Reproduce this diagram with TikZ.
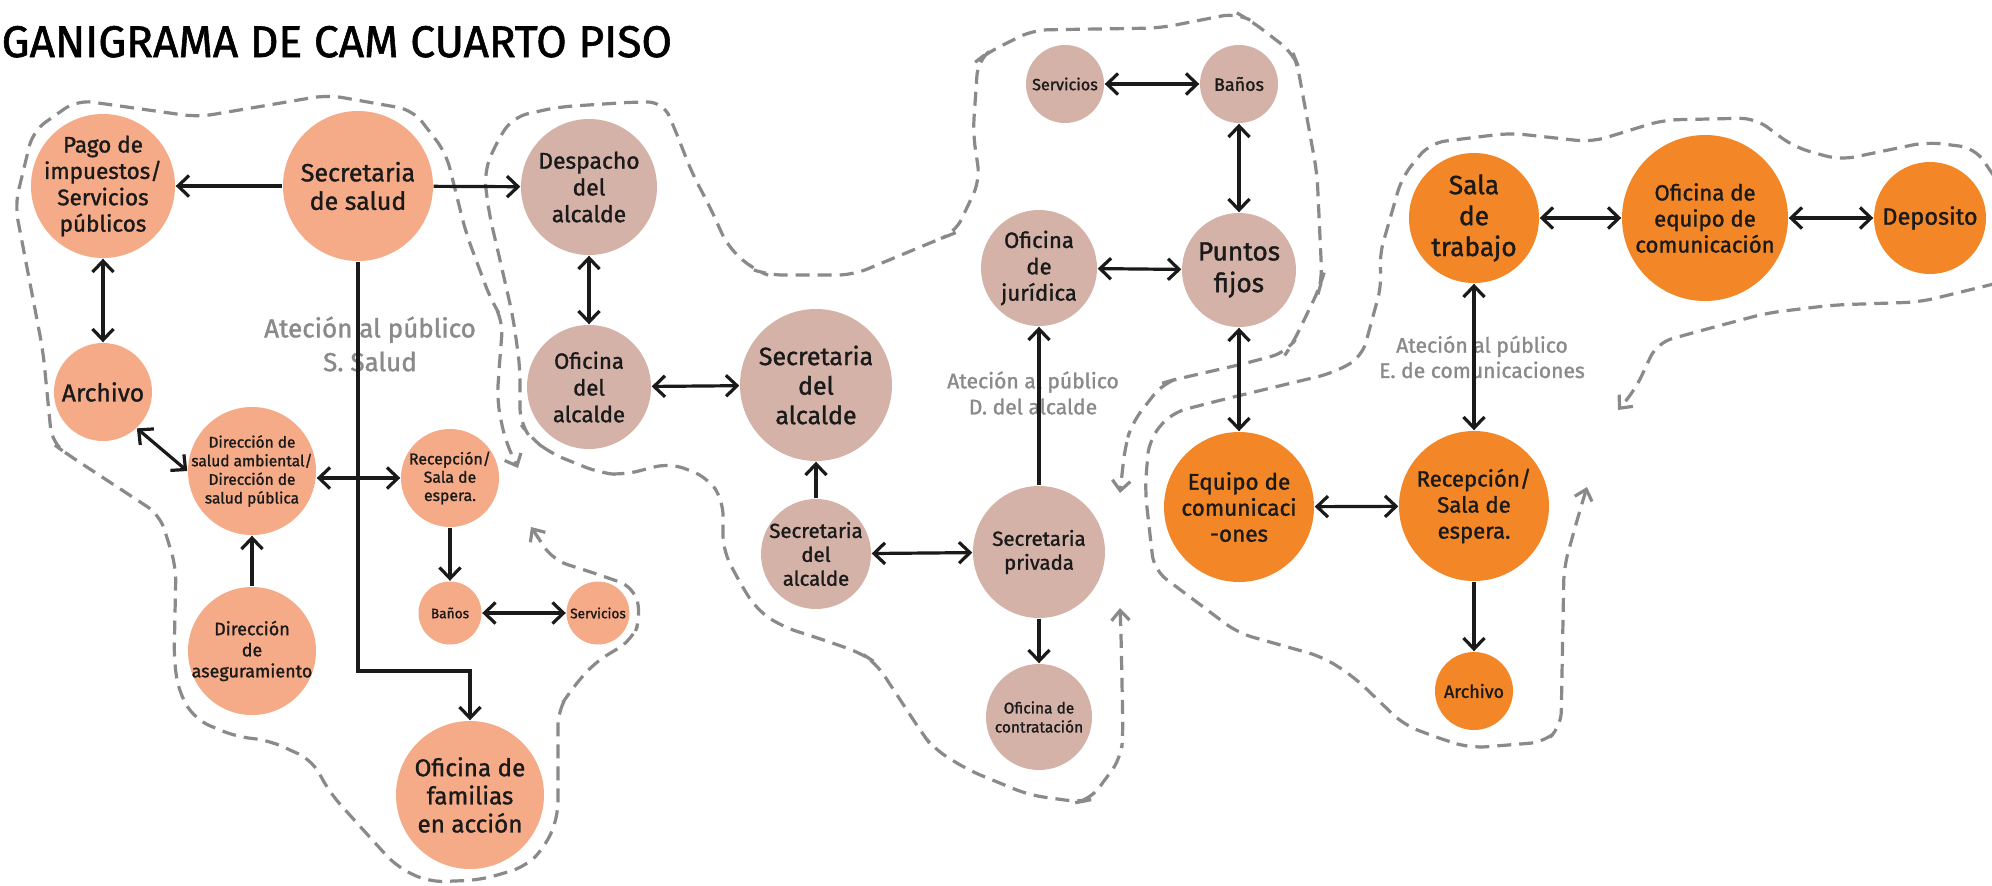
\documentclass[tikz,border=0pt]{standalone}
\usepackage{fontspec}
\setmainfont{Fira Sans}[FakeBold=1.3]
\usetikzlibrary{arrows.meta,calc,positioning}
\definecolor{colSalud}{HTML}{F5AA88}
\definecolor{colAlc}{HTML}{D4B2A8}
\definecolor{colCom}{HTML}{F38626}
\definecolor{ink}{HTML}{1A1A1A}
\definecolor{zona}{HTML}{8A8A8A}
\newcommand{\fsz}[2]{\fontsize{#1}{#2}\selectfont}

\begin{document}
\begin{tikzpicture}[x=0.1mm,y=-0.1mm,>={Straight Barb[length=1.1mm,width=2.1mm]},
  room/.style={circle,inner sep=0pt},
  salud/.style={room,fill=colSalud},
  alc/.style={room,fill=colAlc},
  com/.style={room,fill=colCom},
  every label/.style={align=center,text=ink,inner sep=0pt},
  link/.style={draw=ink,line width=0.32mm},
  zone/.style={draw=zona,line width=0.32mm,dash pattern=on 1.4mm off 0.8mm,rounded corners=1.5mm,
    >={Straight Barb[length=1mm,width=1.8mm]}},
  zonetext/.style={text=zona,align=center}]
  \path[use as bounding box,fill=white] (0,0) rectangle (1992,885);

  \node[anchor=base west,font=\fsz{12.6}{14},inner sep=0pt] (titulo) at (1,57) {GANIGRAMA DE CAM CUARTO PISO};

  % zonas de atencion
  \node[zonetext,font=\fsz{7.4}{9.6}] (zonaSalud) at (370,344) {Ateción al público\\S. Salud};
  \node[zonetext,font=\fsz{6}{7.4}] (zonaAlc) at (1033,393) {Ateción al público\\D. del alcalde};
  \node[zonetext,font=\fsz{6}{7.2}] (zonaCom) at (1482,357) {Ateción al público\\E. de comunicaciones};

  \draw[zone,<->] (531,527) -- (553,560) -- (594,573) -- (634,587) -- (641,617) -- (632,640)
    -- (594,663) -- (571,690) -- (558,710) -- (558,817) -- (545,847) -- (525,867) -- (480,880)
    -- (429,882) -- (397,867) -- (366,833) -- (330,793) -- (312,760) -- (268,740) -- (237,737)
    -- (196,720) -- (179,693) -- (174,660) -- (176,567) -- (160,515) -- (67,454) -- (52,443)
    -- (43,351) -- (15,205) -- (33,131) -- (77,100) -- (198,117) -- (328,95) -- (413,110)
    -- (446,153) -- (466,233) -- (491,300) -- (503,320) -- (500,357) -- (497,400) -- (505,440)
    -- (518,468);
  \draw[zone,<->] (1120,608) -- (1121,633) -- (1123,733) -- (1121,758) -- (1090,800) -- (1079,802)
    -- (1029,795) -- (968,770) -- (933,748) -- (922,733) -- (876,663) -- (861,653) -- (815,637)
    -- (783,627) -- (757,610) -- (740,583) -- (723,550) -- (723,500) -- (707,477) -- (670,463)
    -- (623,475) -- (600,473) -- (550,453) -- (530,437) -- (520,423) -- (520,367) -- (513,317)
    -- (500,260) -- (489,213) -- (484,173) -- (496,143) -- (513,117) -- (558,107) -- (634,102)
    -- (663,102) -- (674,127) -- (692,173) -- (710,207) -- (728,247) -- (754,270) -- (768,275)
    -- (853,275) -- (942,238) -- (955,233) -- (980,180) -- (973,133) -- (978,60) -- (987,53)
    -- (1033,30) -- (1160,28) -- (1237,13) -- (1250,20) -- (1293,53) -- (1297,63) -- (1317,173)
    -- (1322,280) -- (1320,287) -- (1293,343) -- (1287,352) -- (1247,363) -- (1173,380)
    -- (1163,383) -- (1132,423) -- (1125,447) -- (1120,493);
  \draw[zone,<->] (1587,487) -- (1580,510) -- (1564,567) -- (1561,727) -- (1545,742) -- (1471,748)
    -- (1444,740) -- (1404,725) -- (1354,677) -- (1323,657) -- (1238,633) -- (1154,570)
    -- (1145,490) -- (1149,440) -- (1171,413) -- (1221,400) -- (1333,373) -- (1362,357)
    -- (1382,283) -- (1379,257) -- (1402,177) -- (1430,143) -- (1510,133) -- (1592,142)
    -- (1663,120) -- (1755,118) -- (1794,147) -- (1840,160) -- (1927,142) -- (1975,148)
    -- (2010,200) -- (2010,280) -- (1920,302) -- (1833,305) -- (1767,313) -- (1692,333)
    -- (1657,343) -- (1635,390) -- (1618,410);

  % secretaria de salud
  \node[salud,minimum size=14.4mm,label={[font=\fsz{6.4}{7.5}]center:Pago de\\impuestos/\\Servicios\\públicos}] (pago) at (103,186) {};
  \node[salud,minimum size=15mm,label={[font=\fsz{7.1}{8.1}]center:Secretaria\\de salud}] (secSalud) at (358,186) {};
  \node[salud,minimum size=9.8mm,label={[font=\fsz{7}{8}]center:Archivo}] (archSalud) at (103,392) {};
  \node[salud,minimum size=12.8mm,label={[font=\fsz{4.4}{5.3}]center:Dirección de\\salud ambiental/\\Dirección de\\salud pública}] (dirAmb) at (252,471) {};
  \node[salud,minimum size=12.8mm,label={[font=\fsz{5.1}{6}]center:Dirección\\de\\aseguramiento}] (dirAseg) at (252,651) {};
  \node[salud,minimum size=9.8mm,label={[font=\fsz{4.5}{5.2}]center:Recepción/\\Sala de\\espera.}] (recSalud) at (450,478) {};
  \node[salud,minimum size=6.3mm,label={[font=\fsz{3.9}{4.5}]center:Baños}] (banSalud) at (450,613) {};
  \node[salud,minimum size=6.3mm,label={[font=\fsz{3.9}{4.5}]center:Servicios}] (serSalud) at (598,613) {};
  \node[salud,minimum size=14.8mm,label={[font=\fsz{6.9}{8}]center:Oficina de\\familias\\en acción}] (familias) at (470,795) {};

  % despacho del alcalde
  \node[alc,minimum size=13.6mm,label={[font=\fsz{6.5}{7.6}]center:Despacho\\del\\alcalde}] (despacho) at (589,187) {};
  \node[alc,minimum size=12.4mm,label={[font=\fsz{6.3}{7.6}]center:Oficina\\del\\alcalde}] (ofiAlc) at (589,387) {};
  \node[alc,minimum size=15.2mm,label={[font=\fsz{7.1}{8.4}]center:Secretaria\\del\\alcalde}] (secAlc) at (816,385) {};
  \node[alc,minimum size=11mm,label={[font=\fsz{5.8}{6.8}]center:Secretaria\\del\\alcalde}] (secAlcB) at (816,554) {};
  \node[alc,minimum size=13.2mm,label={[font=\fsz{5.8}{6.8}]center:Secretaria\\privada}] (secPriv) at (1039,552) {};
  \node[alc,minimum size=10.6mm,label={[font=\fsz{4.4}{5.4}]center:Oficina de\\contratación}] (contrata) at (1039,717) {};
  \node[alc,minimum size=11.6mm,label={[font=\fsz{6.3}{7.5}]center:Oficina\\de\\jurídica}] (juridica) at (1039,268) {};
  \node[alc,minimum size=11.4mm,label={[font=\fsz{7.5}{9}]center:Puntos\\fijos}] (puntos) at (1239,270) {};
  \node[alc,minimum size=7.8mm,label={[font=\fsz{4.6}{5.5}]center:Servicios}] (servAlc) at (1065,84) {};
  \node[alc,minimum size=7.8mm,label={[font=\fsz{5.1}{6}]center:Baños}] (banAlc) at (1239,84) {};

  % comunicaciones
  \node[com,minimum size=15mm,label={[font=\fsz{6.4}{7.4}]center:Equipo de\\comunicaci\\-ones}] (equipo) at (1239,507) {};
  \node[com,minimum size=15mm,label={[font=\fsz{6.3}{7.4}]center:Recepción/\\Sala de\\espera.}] (recCom) at (1474,506) {};
  \node[com,minimum size=7.8mm,label={[font=\fsz{5.1}{6}]center:Archivo}] (archCom) at (1474,691) {};
  \node[com,minimum size=13mm,label={[font=\fsz{7.5}{8.8}]center:Sala\\de\\trabajo}] (sala) at (1474,218) {};
  \node[com,minimum size=16.6mm,label={[font=\fsz{6.3}{7.4}]center:Oficina de\\equipo de\\comunicación}] (ofiEquipo) at (1705,218) {};
  \node[com,minimum size=11.2mm,label={[font=\fsz{6.7}{8}]center:Deposito}] (deposito) at (1930,218) {};

  \coordinate (codo) at (358,671);
  \draw[link,->] (secSalud) -- (pago);
  \draw[link,->] (secSalud) -- (despacho);
  \draw[link,<->] (pago) -- (archSalud);
  \draw[link,<->] (archSalud.-47) -- (dirAmb.west);
  \draw[link,->] (dirAseg) -- (dirAmb);
  \draw[link,<->] (recSalud.west -| dirAmb.east) -- (recSalud.west);
  \draw[link,->] (recSalud) -- (banSalud);
  \draw[link,<->] (banSalud) -- (serSalud);
  \draw[link,->] (secSalud.south) -- (codo) -| (familias.north);

  \draw[link,<->] (despacho) -- (ofiAlc);
  \draw[link,<->] (ofiAlc) -- (secAlc);
  \draw[link,->] (secAlcB) -- (secAlc);
  \draw[link,<->] (secAlcB) -- (secPriv);
  \draw[link,->] (secPriv) -- (juridica);
  \draw[link,->] (secPriv) -- (contrata);
  \draw[link,<->] (juridica) -- (puntos);
  \draw[link,<->] (servAlc) -- (banAlc);
  \draw[link,<->] (banAlc) -- (puntos);
  \draw[link,<->] (puntos) -- (equipo);

  \draw[link,<->] (equipo) -- (recCom);
  \draw[link,->] (recCom) -- (archCom);
  \draw[link,<->] (sala) -- (recCom);
  \draw[link,<->] (sala) -- (ofiEquipo);
  \draw[link,<->] (ofiEquipo) -- (deposito);
\end{tikzpicture}
\end{document}
